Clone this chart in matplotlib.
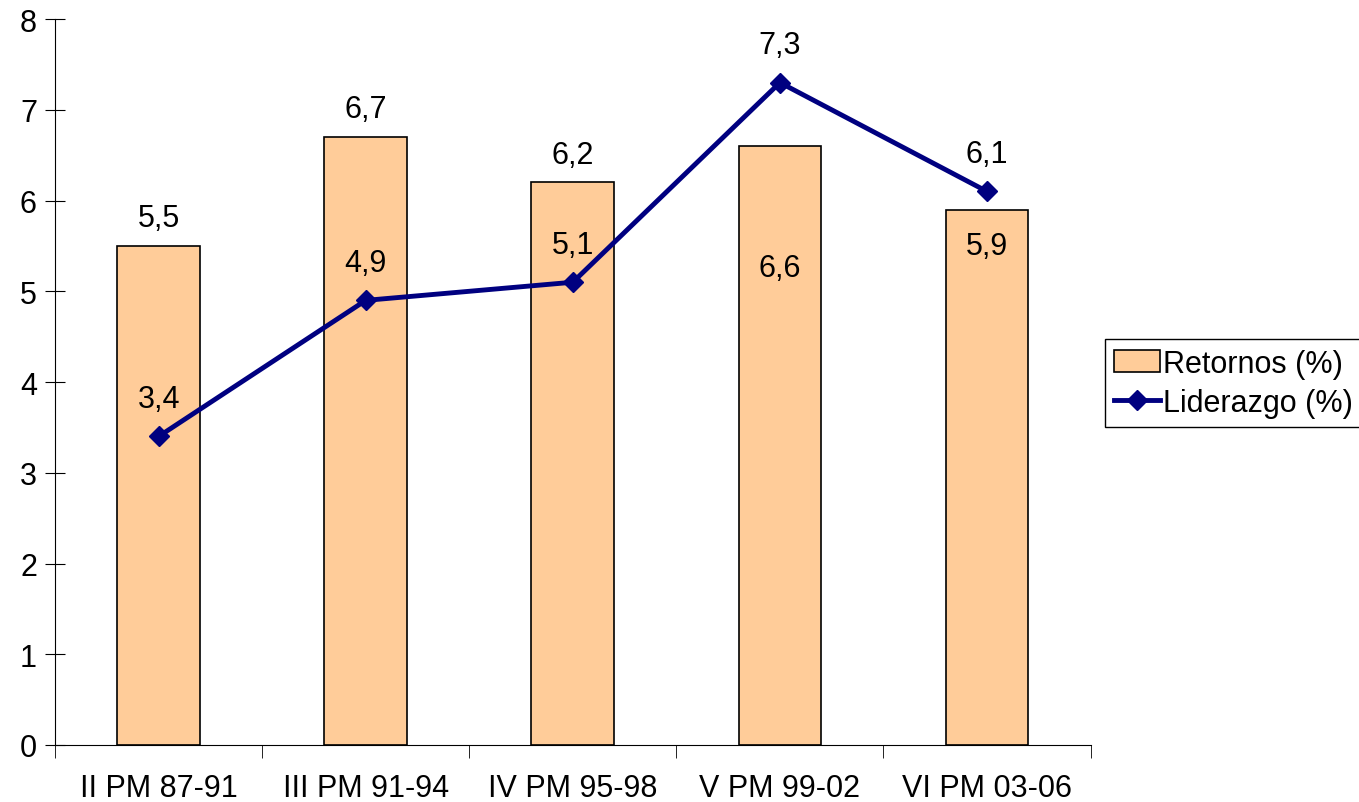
import numpy as np
import matplotlib.pyplot as plt

plt.rcParams['font.family'] = ['Liberation Sans', 'DejaVu Sans']

categories = ['II PM 87-91', 'III PM 91-94', 'IV PM 95-98', 'V PM 99-02', 'VI PM 03-06']
retornos = [5.5, 6.7, 6.2, 6.6, 5.9]
liderazgo = [3.4, 4.9, 5.1, 7.3, 6.1]

# label offsets (points) for bar values; some sit inside the bar to avoid the line labels
bar_label_dy = [20, 20, 20, -88, -26]

fig = plt.figure(figsize=(13.59, 8.03), dpi=100)
ax = fig.add_axes([0.0405, 0.071, 0.762, 0.904])

x = np.arange(len(categories))
bars = ax.bar(x, retornos, width=0.4, color='#FFCC99', edgecolor='black', linewidth=1.2,
              label='Retornos (%)', zorder=2)
line, = ax.plot(x, liderazgo, color='#000080', linewidth=3.5, marker='D', markersize=10,
                label='Liderazgo (%)', zorder=3)

for xi, v, dy in zip(x, retornos, bar_label_dy):
    ax.annotate(f'{v:.1f}'.replace('.', ','), (xi, v), xytext=(0, dy),
                textcoords='offset points', ha='center', va='center', fontsize=22, zorder=4)
for xi, v in zip(x, liderazgo):
    ax.annotate(f'{v:.1f}'.replace('.', ','), (xi, v), xytext=(0, 27),
                textcoords='offset points', ha='center', va='center', fontsize=22, zorder=4)

ax.set_xlim(-0.5, len(categories) - 0.5)
ax.set_ylim(0, 8)
ax.set_yticks(range(0, 9))
ax.tick_params(axis='y', direction='inout', length=14, labelsize=22, pad=6)
ax.set_xticks(x)
ax.set_xticklabels(categories, fontsize=22)
ax.tick_params(axis='x', length=0, pad=20)
ax.set_xticks(np.arange(-0.5, len(categories)), minor=True)
ax.tick_params(axis='x', which='minor', direction='out', length=9)

for s in ['top', 'right']:
    ax.spines[s].set_visible(False)

fig.legend([bars, line], ['Retornos (%)', 'Liderazgo (%)'], loc='upper left',
           bbox_to_anchor=(0.813, 0.576), fontsize=22,
           frameon=True, fancybox=False, edgecolor='black', framealpha=1,
           handlelength=1.5, handletextpad=0.1, borderpad=0.3, labelspacing=0.3,
           borderaxespad=0)

fig.savefig('out.png', dpi=100)
